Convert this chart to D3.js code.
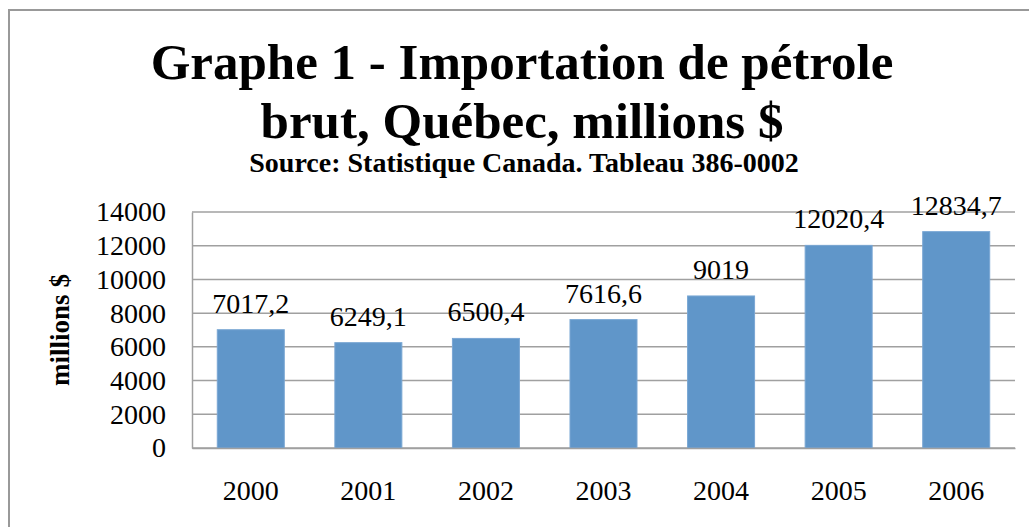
<!DOCTYPE html>
<html>
<head>
<meta charset="utf-8">
<script src="https://cdn.jsdelivr.net/npm/d3@7"></script>
<style>
  body { margin: 0; background: #fff; }
  svg { display: block; }
</style>
</head>
<body>
<div id="chart"></div>
<script>
const years = ["2000", "2001", "2002", "2003", "2004", "2005", "2006"];
const imports = [7017.2, 6249.1, 6500.4, 7616.6, 9019, 12020.4, 12834.7];
const valueLabels = ["7017,2", "6249,1", "6500,4", "7616,6", "9019", "12020,4", "12834,7"];
const yTicks = [0, 2000, 4000, 6000, 8000, 10000, 12000, 14000];
const titleLines = ["Graphe 1 - Importation de pétrole", "brut, Québec, millions $"];
const subtitle = "Source: Statistique Canada. Tableau 386-0002";
const yTitle = "millions $";

const width = 1029, height = 527;
const margin = { top: 212, right: 14, bottom: 79, left: 192 };
const serif = "'Liberation Serif', 'Times New Roman', serif";

const svg = d3.select("#chart")
    .append("svg")
    .attr("width", width)
    .attr("height", height);

// outer frame (runs off the right and bottom of the picture)
svg.append("rect")
    .attr("x", 9)
    .attr("y", 10)
    .attr("width", 1040)
    .attr("height", 540)
    .attr("fill", "none")
    .attr("stroke", "#999")
    .attr("stroke-width", 2);

const x = d3.scaleBand()
    .domain(years)
    .range([margin.left, width - margin.right])
    .paddingInner(0.43)
    .paddingOuter(0.215);

const y = d3.scaleLinear()
    .domain([0, 14000])
    .range([height - margin.bottom, margin.top]);

// gridlines
svg.append("g")
    .selectAll("line")
    .data(yTicks)
    .join("line")
    .attr("x1", margin.left)
    .attr("x2", width - margin.right)
    .attr("y1", d => y(d))
    .attr("y2", d => y(d))
    .attr("stroke", "#a0a0a0")
    .attr("stroke-width", 1.5);

// bars
svg.append("g")
    .selectAll("rect")
    .data(imports)
    .join("rect")
    .attr("x", (d, i) => x(years[i]))
    .attr("y", d => y(d))
    .attr("width", x.bandwidth())
    .attr("height", d => y(0) - y(d))
    .attr("fill", "#6096c9")
    .attr("stroke", "#7aa7d4")
    .attr("stroke-width", 1);

// axis lines
const yAxis = svg.append("g")
    .attr("transform", `translate(${margin.left},0)`)
    .call(d3.axisLeft(y).tickValues(yTicks).tickFormat(d3.format("d")).tickSize(0).tickPadding(26));
const xAxis = svg.append("g")
    .attr("transform", `translate(0,${y(0)})`)
    .call(d3.axisBottom(x).tickSize(0).tickPadding(32));

[yAxis, xAxis].forEach(g => {
    g.select(".domain").attr("stroke", "#a0a0a0").attr("stroke-width", 1.5);
    g.selectAll("text")
        .attr("font-family", serif)
        .attr("font-size", 28)
        .attr("fill", "#000");
});

// value labels
svg.append("g")
    .selectAll("text")
    .data(imports)
    .join("text")
    .attr("x", (d, i) => x(years[i]) + x.bandwidth() / 2)
    .attr("y", d => y(d) - 17)
    .attr("text-anchor", "middle")
    .attr("font-family", serif)
    .attr("font-size", 28)
    .text((d, i) => valueLabels[i]);

// titles
svg.append("g")
    .selectAll("text")
    .data(titleLines)
    .join("text")
    .attr("x", 522)
    .attr("y", (d, i) => 79 + i * 59)
    .attr("text-anchor", "middle")
    .attr("font-family", serif)
    .attr("font-weight", "bold")
    .attr("font-size", 51)
    .text(d => d);

svg.append("text")
    .attr("x", 524)
    .attr("y", 172)
    .attr("text-anchor", "middle")
    .attr("font-family", serif)
    .attr("font-weight", "bold")
    .attr("font-size", 28)
    .text(subtitle);

svg.append("text")
    .attr("transform", "translate(69,330) rotate(-90)")
    .attr("text-anchor", "middle")
    .attr("font-family", serif)
    .attr("font-weight", "bold")
    .attr("font-size", 27)
    .text(yTitle);
</script>
</body>
</html>
